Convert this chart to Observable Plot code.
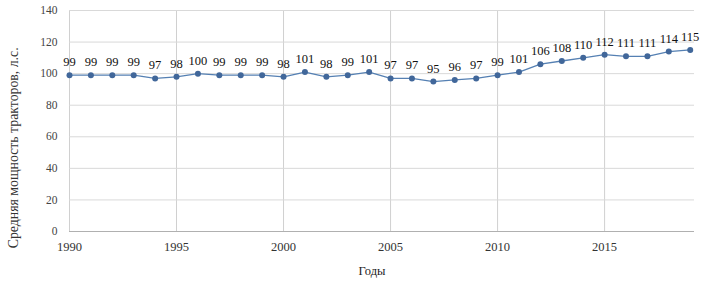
<!DOCTYPE html>
<html><head><meta charset="utf-8">
<script src="https://cdn.jsdelivr.net/npm/d3@7"></script>
<script src="https://cdn.jsdelivr.net/npm/@observablehq/plot@0.6"></script>
<style>body{margin:0;background:#fff}</style>
</head><body><div id="chart"></div>
<script>
const years = [1990,1991,1992,1993,1994,1995,1996,1997,1998,1999,2000,2001,2002,2003,2004,2005,2006,2007,2008,2009,2010,2011,2012,2013,2014,2015,2016,2017,2018,2019];
const power = [99,99,99,99,97,98,100,99,99,99,98,101,98,99,101,97,97,95,96,97,99,101,106,108,110,112,111,111,114,115];
const xTicks = [1990,1995,2000,2005,2010,2015];
const yTicks = [0,20,40,60,80,100,120,140];
const xTitle = "Годы";
const yTitle = "Средняя мощность тракторов, л.с.";
const data = years.map((y,i)=>({year:y, value:power[i]}));
const chart = Plot.plot({
  width:706, height:283,
  marginLeft:69, marginRight:12, marginTop:10, marginBottom:52,
  style:{fontFamily:"Liberation Serif", fontSize:"11px", color:"#333", background:"#fff"},
  x:{domain:[1990,2019.2]},
  y:{domain:[0,140]},
  marks:[
    Plot.gridX(xTicks,{stroke:"#d0d0d0", strokeOpacity:1}),
    Plot.gridY(yTicks,{stroke:"#d9d9d9", strokeOpacity:1}),
    Plot.ruleY([0],{stroke:"#b0b0b0"}),
    Plot.axisX(xTicks,{tickFormat:d=>String(d), label:null, tickSize:0, tickPadding:11, fontSize:12.5, fill:"#333"}),
    Plot.axisY(yTicks,{label:null, tickSize:0, tickPadding:12, fontSize:11.5, fill:"#444"}),
    Plot.line(data,{x:"year", y:"value", stroke:"#5580b3", strokeWidth:1.3}),
    Plot.dot(data,{x:"year", y:"value", r:3, fill:"#41679a"}),
    Plot.text(data,{x:"year", y:"value", text:d=>String(d.value), dy:-13, fontSize:12.5, fill:"#111", fontFamily:"Liberation Serif"}),
    Plot.text([xTitle],{frameAnchor:"bottom", dy:43, dx:-10, fontSize:12.5, fill:"#222", fontFamily:"Liberation Serif"}),
    Plot.text([yTitle],{frameAnchor:"left", y:53, textAnchor:"middle", rotate:-90, dx:-56, fontSize:13.8, fill:"#333", fontFamily:"Liberation Serif"})
  ]
});
document.getElementById("chart").appendChild(chart);
</script></body></html>
